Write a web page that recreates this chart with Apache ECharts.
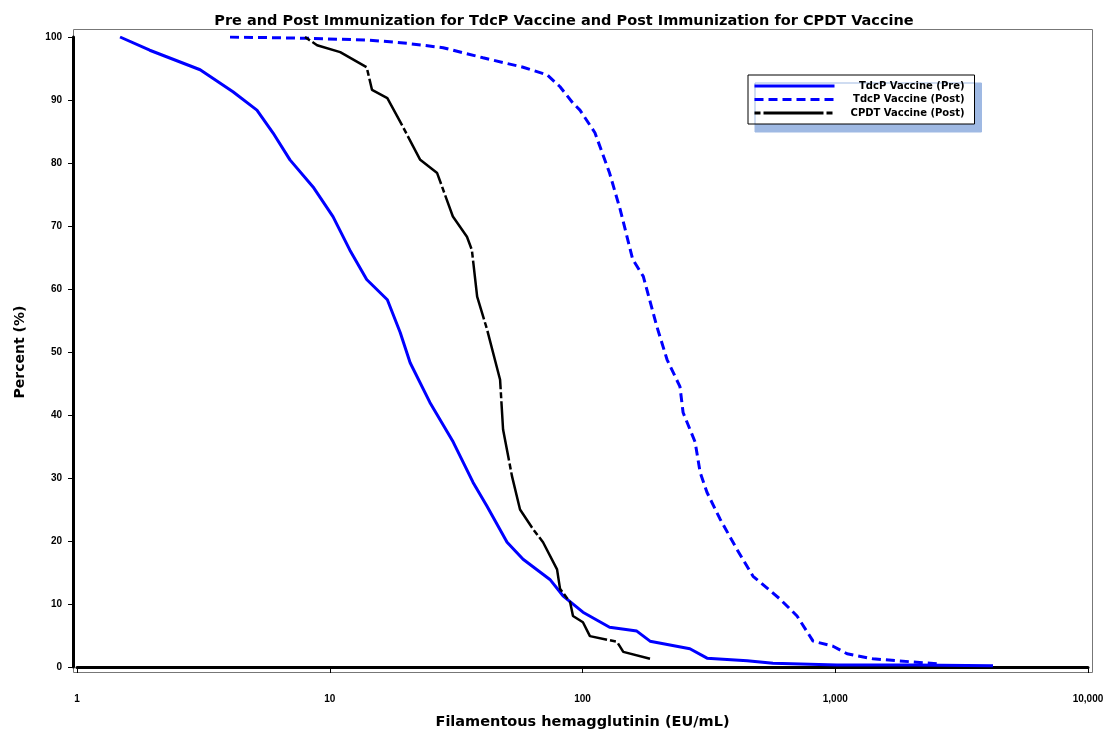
<!DOCTYPE html>
<html>
<head>
<meta charset="utf-8">
<script src="https://cdn.jsdelivr.net/npm/echarts@6/dist/echarts.min.js"></script>
<style>
html,body{margin:0;padding:0;background:#fff;}
#chart{width:1110px;height:735px;}
</style>
</head>
<body>
<div id="chart"></div>
<script>
// ---- Data ----
const titleText = 'Pre and Post Immunization for TdcP Vaccine and Post Immunization for CPDT Vaccine';
const xAxisTitle = 'Filamentous hemagglutinin (EU/mL)';
const yAxisTitle = 'Percent (%)';
const seriesNames = ['TdcP Vaccine (Pre)', 'TdcP Vaccine (Post)', 'CPDT Vaccine (Post)'];

const yTicks = [0,10,20,30,40,50,60,70,80,90,100];
const xTickLabels = ['1','10','100','1,000','10,000'];

// TdcP Vaccine (Pre): titer (EU/mL) and percent of subjects >= titer
const preTiter = [1.48,1.94,3.07,4.14,5.15,5.96,6.96,8.59,10.3,12.0,14.0,16.9,19.0,20.8,24.9,30.8,36.9,41.9,50.3,58.2,74.3,83.7,100.4,128,164,185,266,311,448,567,1016,2032,4210];
const prePct   = [100,97.9,94.8,91.3,88.4,84.8,80.5,76.2,71.5,66.2,61.5,58.3,53.1,48.3,42.0,35.7,29.3,25.5,19.8,17.1,13.9,11.3,8.7,6.3,5.7,4.1,2.9,1.4,1.0,0.6,0.3,0.3,0.2];

// TdcP Vaccine (Post)
const postTiter = [4.03,8.13,14.4,20.2,28.1,40.4,58.2,72.4,81.5,91.7,97.7,112,128,141,158,174,197,216,243,250,279,292,311,350,408,473,604,706,817,980,1114,1410,2032,2596];
const postPct   = [100,99.8,99.5,99.0,98.3,96.7,95.2,94.0,92.1,89.5,88.4,84.8,78.4,72.6,64.7,62.0,54.0,48.8,44.5,40.4,35.7,30.9,27.7,23.5,18.7,14.4,10.8,8.1,4.1,3.3,2.1,1.3,0.8,0.5];

// CPDT Vaccine (Post)
const cpdtTiter = [7.98,8.91,11.0,14.0,14.7,16.9,19.5,22.8,26.6,30.7,34.9,36.5,38.3,41.9,47.2,48.5,52.6,56.6,63.7,69.8,79.3,81.5,89.3,91.7,100.4,107,137,145,185];
const cpdtPct   = [100,98.7,97.6,95.2,91.6,90.3,85.7,80.5,78.4,71.5,68.3,66.2,58.8,53.6,45.6,37.7,30.3,25.0,21.9,19.8,15.5,12.4,10.3,8.1,7.1,4.9,4.0,2.4,1.3];

const zip = (xs, ys) => xs.map((x, i) => [x, ys[i]]);

const FONT = '"Liberation Sans", Arial, sans-serif';
const WIDE = '"DejaVu Sans", "Liberation Sans", sans-serif';

const chart = echarts.init(document.getElementById('chart'), null, {renderer: 'canvas'});

chart.setOption({
  backgroundColor: '#ffffff',
  animation: false,
  title: {
    text: titleText,
    left: 559,
    textAlign: 'center',
    top: 9,
    textStyle: {fontFamily: WIDE, fontWeight: 'bold', fontSize: 14.5, color: '#000'}
  },
  grid: {left: 77, right: 22, top: 37, bottom: 67, containLabel: false},
  graphic: [{
    type: 'rect',
    z: 0,
    silent: true,
    shape: {x: 73.5, y: 29.5, width: 1019, height: 643},
    style: {fill: 'none', stroke: '#777', lineWidth: 1}
  }],
  legend: {
    orient: 'vertical',
    left: 748,
    top: 75,
    padding: [6, 10, 6, 5],
    itemWidth: 80,
    itemHeight: 10,
    itemGap: 3.5,
    backgroundColor: '#fff',
    borderColor: '#000',
    borderWidth: 1,
    shadowColor: '#9fb9e3',
    shadowBlur: 0,
    shadowOffsetX: 7,
    shadowOffsetY: 8,
    itemStyle: {color: 'rgba(0,0,0,0)', borderColor: 'rgba(0,0,0,0)', borderWidth: 0, opacity: 0},
    lineStyle: {width: 3},
    data: seriesNames,
    formatter: name => '{t|' + name + '}',
    textStyle: {
      rich: {
        t: {width: 125, align: 'right', fontFamily: WIDE, fontWeight: 'bold', fontSize: 10, lineHeight: 10, color: '#000'}
      }
    }
  },
  xAxis: {
    type: 'log',
    logBase: 10,
    min: 1,
    max: 10000,
    offset: 5,
    name: xAxisTitle,
    nameLocation: 'middle',
    nameGap: 43,
    nameTextStyle: {fontFamily: WIDE, fontWeight: 'bold', fontSize: 14.5, color: '#000'},
    axisLine: {show: true, lineStyle: {color: '#000', width: 3}},
    axisTick: {show: true, length: 6, lineStyle: {color: '#000', width: 1}},
    minorTick: {show: false},
    splitLine: {show: false},
    axisLabel: {
      margin: 22,
      fontFamily: FONT, fontWeight: 'bold', fontSize: 10, color: '#000',
      formatter: v => {
        const idx = Math.round(Math.log10(v));
        return xTickLabels[idx] !== undefined ? xTickLabels[idx] : '';
      }
    }
  },
  yAxis: {
    type: 'value',
    min: yTicks[0],
    max: yTicks[yTicks.length - 1],
    interval: 10,
    offset: 4,
    name: yAxisTitle,
    nameLocation: 'middle',
    nameRotate: 90,
    nameGap: 46,
    nameTextStyle: {fontFamily: WIDE, fontWeight: 'bold', fontSize: 14, color: '#000'},
    axisLine: {show: true, lineStyle: {color: '#000', width: 3}},
    axisTick: {show: true, length: 5, lineStyle: {color: '#000', width: 1}},
    splitLine: {show: false},
    axisLabel: {margin: 11, fontFamily: FONT, fontWeight: 'bold', fontSize: 10, color: '#000'}
  },
  series: [
    {
      name: seriesNames[0], type: 'line', symbol: 'none', smooth: false,
      data: zip(preTiter, prePct),
      lineStyle: {color: '#0000ff', width: 3, type: 'solid'},
      itemStyle: {color: '#0000ff'}
    },
    {
      name: seriesNames[1], type: 'line', symbol: 'none', smooth: false,
      data: zip(postTiter, postPct),
      lineStyle: {color: '#0000ff', width: 3, type: [9, 5]},
      itemStyle: {color: '#0000ff'}
    },
    {
      name: seriesNames[2], type: 'line', symbol: 'none', smooth: false,
      data: zip(cpdtTiter, cpdtPct),
      lineStyle: {color: '#000000', width: 2.5, type: [6, 3, 60, 3]},
      itemStyle: {color: '#000000'}
    }
  ]
});
</script>
</body>
</html>
